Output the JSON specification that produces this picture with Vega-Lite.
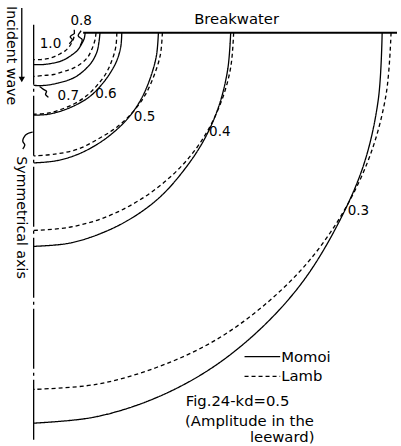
{
  "$schema": "https://vega.github.io/schema/vega-lite/v6.json",
  "width": 401,
  "height": 446,
  "padding": 0,
  "autosize": {"type": "fit", "contains": "padding"},
  "background": "white",
  "config": {"view": {"stroke": null}},
  "datasets": {
    "cv": [
      {"c":"3M","m":"Momoi","o":0,"x":386,"y":33},{"c":"3M","m":"Momoi","o":1,"x":382,"y":101},{"c":"3M","m":"Momoi","o":2,"x":367,"y":167},{"c":"3M","m":"Momoi","o":3,"x":339,"y":230},{"c":"3M","m":"Momoi","o":4,"x":304,"y":286},{"c":"3M","m":"Momoi","o":5,"x":260,"y":334},{"c":"3M","m":"Momoi","o":6,"x":210,"y":373},{"c":"3M","m":"Momoi","o":7,"x":154,"y":402},{"c":"3M","m":"Momoi","o":8,"x":95,"y":420},{"c":"3M","m":"Momoi","o":9,"x":34,"y":426},
      {"c":"3L","m":"Lamb","o":0,"x":395,"y":33},{"c":"3L","m":"Lamb","o":1,"x":390,"y":95},{"c":"3L","m":"Lamb","o":2,"x":374,"y":156},{"c":"3L","m":"Lamb","o":3,"x":347,"y":213},{"c":"3L","m":"Lamb","o":4,"x":311,"y":264},{"c":"3L","m":"Lamb","o":5,"x":266,"y":308},{"c":"3L","m":"Lamb","o":6,"x":215,"y":344},{"c":"3L","m":"Lamb","o":7,"x":158,"y":370},{"c":"3L","m":"Lamb","o":8,"x":97,"y":387},{"c":"3L","m":"Lamb","o":9,"x":34,"y":392},
      {"c":"4M","m":"Momoi","o":0,"x":233,"y":33},{"c":"4M","m":"Momoi","o":1,"x":230,"y":70},{"c":"4M","m":"Momoi","o":2,"x":221,"y":107},{"c":"4M","m":"Momoi","o":3,"x":206,"y":141},{"c":"4M","m":"Momoi","o":4,"x":186,"y":171},{"c":"4M","m":"Momoi","o":5,"x":162,"y":198},{"c":"4M","m":"Momoi","o":6,"x":134,"y":219},{"c":"4M","m":"Momoi","o":7,"x":102,"y":235},{"c":"4M","m":"Momoi","o":8,"x":69,"y":245},{"c":"4M","m":"Momoi","o":9,"x":34,"y":248},
      {"c":"4L","m":"Lamb","o":0,"x":236,"y":33},{"c":"4L","m":"Lamb","o":1,"x":233,"y":68},{"c":"4L","m":"Lamb","o":2,"x":224,"y":101},{"c":"4L","m":"Lamb","o":3,"x":209,"y":133},{"c":"4L","m":"Lamb","o":4,"x":189,"y":161},{"c":"4L","m":"Lamb","o":5,"x":164,"y":185},{"c":"4L","m":"Lamb","o":6,"x":135,"y":205},{"c":"4L","m":"Lamb","o":7,"x":103,"y":220},{"c":"4L","m":"Lamb","o":8,"x":69,"y":229},{"c":"4L","m":"Lamb","o":9,"x":34,"y":232},
      {"c":"5M","m":"Momoi","o":0,"x":160,"y":33},{"c":"5M","m":"Momoi","o":1,"x":158,"y":56},{"c":"5M","m":"Momoi","o":2,"x":152,"y":78},{"c":"5M","m":"Momoi","o":3,"x":143,"y":99},{"c":"5M","m":"Momoi","o":4,"x":131,"y":117},{"c":"5M","m":"Momoi","o":5,"x":115,"y":133},{"c":"5M","m":"Momoi","o":6,"x":97,"y":146},{"c":"5M","m":"Momoi","o":7,"x":77,"y":156},{"c":"5M","m":"Momoi","o":8,"x":56,"y":162},{"c":"5M","m":"Momoi","o":9,"x":34,"y":164},
      {"c":"5L","m":"Lamb","o":0,"x":164,"y":33},{"c":"5L","m":"Lamb","o":1,"x":162,"y":55},{"c":"5L","m":"Lamb","o":2,"x":156,"y":75},{"c":"5L","m":"Lamb","o":3,"x":147,"y":95},{"c":"5L","m":"Lamb","o":4,"x":134,"y":113},{"c":"5L","m":"Lamb","o":5,"x":118,"y":128},{"c":"5L","m":"Lamb","o":6,"x":99,"y":140},{"c":"5L","m":"Lamb","o":7,"x":79,"y":150},{"c":"5L","m":"Lamb","o":8,"x":57,"y":155},{"c":"5L","m":"Lamb","o":9,"x":34,"y":157},
      {"c":"6M","m":"Momoi","o":0,"x":123,"y":33},{"c":"6M","m":"Momoi","o":1,"x":122,"y":47},{"c":"6M","m":"Momoi","o":2,"x":118,"y":61},{"c":"6M","m":"Momoi","o":3,"x":111,"y":74},{"c":"6M","m":"Momoi","o":4,"x":102,"y":86},{"c":"6M","m":"Momoi","o":5,"x":91,"y":97},{"c":"6M","m":"Momoi","o":6,"x":78,"y":105},{"c":"6M","m":"Momoi","o":7,"x":64,"y":111},{"c":"6M","m":"Momoi","o":8,"x":49,"y":115},{"c":"6M","m":"Momoi","o":9,"x":34,"y":116},
      {"c":"6L","m":"Lamb","o":0,"x":118,"y":33},{"c":"6L","m":"Lamb","o":1,"x":117,"y":47},{"c":"6L","m":"Lamb","o":2,"x":113,"y":61},{"c":"6L","m":"Lamb","o":3,"x":107,"y":74},{"c":"6L","m":"Lamb","o":4,"x":98,"y":86},{"c":"6L","m":"Lamb","o":5,"x":88,"y":96},{"c":"6L","m":"Lamb","o":6,"x":76,"y":104},{"c":"6L","m":"Lamb","o":7,"x":62,"y":110},{"c":"6L","m":"Lamb","o":8,"x":48,"y":114},{"c":"6L","m":"Lamb","o":9,"x":34,"y":115},
      {"c":"7M","m":"Momoi","o":0,"x":101,"y":33},{"c":"7M","m":"Momoi","o":1,"x":100,"y":42},{"c":"7M","m":"Momoi","o":2,"x":98,"y":52},{"c":"7M","m":"Momoi","o":3,"x":93,"y":62},{"c":"7M","m":"Momoi","o":4,"x":86,"y":70},{"c":"7M","m":"Momoi","o":5,"x":77,"y":77},{"c":"7M","m":"Momoi","o":6,"x":68,"y":81},{"c":"7M","m":"Momoi","o":7,"x":57,"y":84},{"c":"7M","m":"Momoi","o":8,"x":45,"y":86},{"c":"7M","m":"Momoi","o":9,"x":34,"y":86},
      {"c":"7L","m":"Lamb","o":0,"x":97,"y":33},{"c":"7L","m":"Lamb","o":1,"x":96,"y":40},{"c":"7L","m":"Lamb","o":2,"x":93,"y":49},{"c":"7L","m":"Lamb","o":3,"x":89,"y":57},{"c":"7L","m":"Lamb","o":4,"x":82,"y":64},{"c":"7L","m":"Lamb","o":5,"x":73,"y":69},{"c":"7L","m":"Lamb","o":6,"x":64,"y":72},{"c":"7L","m":"Lamb","o":7,"x":54,"y":75},{"c":"7L","m":"Lamb","o":8,"x":44,"y":76},{"c":"7L","m":"Lamb","o":9,"x":34,"y":77},
      {"c":"10M","m":"Momoi","o":0,"x":86,"y":33},{"c":"10M","m":"Momoi","o":1,"x":85,"y":39},{"c":"10M","m":"Momoi","o":2,"x":82,"y":45},{"c":"10M","m":"Momoi","o":3,"x":78,"y":51},{"c":"10M","m":"Momoi","o":4,"x":73,"y":55},{"c":"10M","m":"Momoi","o":5,"x":67,"y":59},{"c":"10M","m":"Momoi","o":6,"x":60,"y":62},{"c":"10M","m":"Momoi","o":7,"x":51,"y":64},{"c":"10M","m":"Momoi","o":8,"x":43,"y":65},{"c":"10M","m":"Momoi","o":9,"x":34,"y":65},
      {"c":"10L","m":"Lamb","o":0,"x":75,"y":30},{"c":"10L","m":"Lamb","o":1,"x":75,"y":36},{"c":"10L","m":"Lamb","o":2,"x":73,"y":42},{"c":"10L","m":"Lamb","o":3,"x":70,"y":47},{"c":"10L","m":"Lamb","o":4,"x":66,"y":51},{"c":"10L","m":"Lamb","o":5,"x":61,"y":54},{"c":"10L","m":"Lamb","o":6,"x":55,"y":57},{"c":"10L","m":"Lamb","o":7,"x":48,"y":59},{"c":"10L","m":"Lamb","o":8,"x":41,"y":60},{"c":"10L","m":"Lamb","o":9,"x":34,"y":60},
      {"c":"legM","m":"Momoi","o":0,"x":247,"y":359},{"c":"legM","m":"Momoi","o":1,"x":283,"y":359},
      {"c":"legL","m":"Lamb","o":0,"x":247,"y":379},{"c":"legL","m":"Lamb","o":1,"x":283,"y":379},
      {"c":"axis","m":"axis","o":0,"x":34,"y":25},{"c":"axis","m":"axis","o":1,"x":34,"y":446},
      {"c":"bw","m":"bw","o":0,"x":84,"y":33},{"c":"bw","m":"bw","o":1,"x":401,"y":33},
      {"c":"arr","m":"Momoi","o":0,"x":22,"y":8},{"c":"arr","m":"Momoi","o":1,"x":22,"y":78},
      {"c":"sq","m":"Momoi","o":0,"x":23,"y":150},{"c":"sq","m":"Momoi","o":1,"x":25,"y":146},{"c":"sq","m":"Momoi","o":2,"x":23,"y":142},{"c":"sq","m":"Momoi","o":3,"x":25,"y":137},{"c":"sq","m":"Momoi","o":4,"x":29,"y":134},{"c":"sq","m":"Momoi","o":5,"x":33,"y":133},
      {"c":"a7","m":"Momoi","o":0,"x":49,"y":98},{"c":"a7","m":"Momoi","o":1,"x":46,"y":95},{"c":"a7","m":"Momoi","o":2,"x":47,"y":92},{"c":"a7","m":"Momoi","o":3,"x":44,"y":90},{"c":"a7","m":"Momoi","o":4,"x":40,"y":87},
      {"c":"a8a","m":"Momoi","o":0,"x":75,"y":34},{"c":"a8a","m":"Momoi","o":1,"x":71,"y":37},{"c":"a8a","m":"Momoi","o":2,"x":73,"y":40},{"c":"a8a","m":"Momoi","o":3,"x":70,"y":44},
      {"c":"a8b","m":"Momoi","o":0,"x":82,"y":31},{"c":"a8b","m":"Momoi","o":1,"x":79,"y":36},{"c":"a8b","m":"Momoi","o":2,"x":83,"y":40},{"c":"a8b","m":"Momoi","o":3,"x":81,"y":46}
    ],
    "tx": [
      {"k":"c","t":"Breakwater","x":239,"y":20},
      {"k":"n","t":"0.8","x":82,"y":21},
      {"k":"n","t":"1.0","x":51,"y":44},
      {"k":"n","t":"0.7","x":69,"y":97},
      {"k":"n","t":"0.6","x":107,"y":95},
      {"k":"n","t":"0.5","x":146,"y":118},
      {"k":"n","t":"0.4","x":222,"y":133},
      {"k":"n","t":"0.3","x":362,"y":212},
      {"k":"l","t":"Momoi","x":284,"y":360},
      {"k":"l","t":"Lamb","x":284,"y":380},
      {"k":"c","t":"Fig.24-kd=0.5","x":240,"y":405},
      {"k":"c","t":"(Amplitude in the","x":252,"y":425},
      {"k":"c","t":"leeward)","x":285,"y":441},
      {"k":"r","t":"Incident wave","x":11,"y":56},
      {"k":"r","t":"Symmetrical axis","x":21,"y":219}
    ],
    "hd": [{"x":22,"y":80}]
  },
  "encoding": {
    "x": {"field":"x","type":"quantitative","scale":{"domain":[0,401],"nice":false,"zero":false},"axis":null},
    "y": {"field":"y","type":"quantitative","scale":{"domain":[0,446],"nice":false,"zero":false,"reverse":true},"axis":null}
  },
  "layer": [
    {
      "data": {"name":"cv"},
      "mark": {"type":"line","interpolate":"catmull-rom","color":"black"},
      "encoding": {
        "detail": {"field":"c"},
        "order": {"field":"o","type":"quantitative"},
        "strokeDash": {"field":"m","type":"nominal","scale":{"domain":["Momoi","Lamb","axis","bw"],"range":[[1,0],[4,3],[60,4,3,4],[1,0]]},"legend":null},
        "strokeWidth": {"condition":{"test":"datum.m==='bw'","value":2},"value":1.3}
      }
    },
    {
      "data": {"name":"hd"},
      "mark": {"type":"point","shape":"triangle-down","filled":true,"color":"black","size":40,"opacity":1}
    },
    {
      "data": {"name":"tx"},
      "transform": [{"filter":"datum.k==='c'"}],
      "mark": {"type":"text","font":"DejaVu Sans","fontSize":14.8,"align":"center","baseline":"middle","color":"black"},
      "encoding": {"text":{"field":"t"}}
    },
    {
      "data": {"name":"tx"},
      "transform": [{"filter":"datum.k==='n'"}],
      "mark": {"type":"text","font":"DejaVu Sans","fontSize":13.5,"align":"center","baseline":"middle","color":"black"},
      "encoding": {"text":{"field":"t"}}
    },
    {
      "data": {"name":"tx"},
      "transform": [{"filter":"datum.k==='l'"}],
      "mark": {"type":"text","font":"DejaVu Sans","fontSize":14.8,"align":"left","baseline":"middle","color":"black"},
      "encoding": {"text":{"field":"t"}}
    },
    {
      "data": {"name":"tx"},
      "transform": [{"filter":"datum.k==='r'"}],
      "mark": {"type":"text","font":"DejaVu Sans","fontSize":14.2,"align":"center","baseline":"middle","angle":90,"color":"black"},
      "encoding": {"text":{"field":"t"}}
    }
  ]
}
